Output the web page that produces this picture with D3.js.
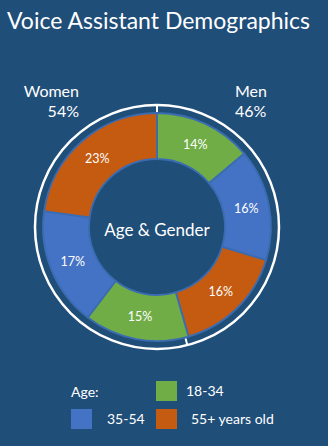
<!DOCTYPE html>
<html>
<head>
<meta charset="utf-8">
<script src="https://cdn.jsdelivr.net/npm/d3@7"></script>
<style>
  html, body { margin: 0; padding: 0; background: #1f4e79; }
  svg { display: block; }
  text { font-family: Lato, "Open Sans", sans-serif; fill: #ffffff; }
</style>
</head>
<body>
<svg id="chart" width="328" height="446"></svg>
<script>
// Age segments, clockwise from 12 o'clock: men first, then women
const segmentLabels = ["Men 18-34", "Men 35-54", "Men 55+", "Women 18-34", "Women 35-54", "Women 55+"];
const segmentAges   = ["18-34", "35-54", "55+", "18-34", "35-54", "55+"];
const segmentValues = [14, 16, 16, 15, 17, 23];

// Gender split shown on the outer ring
const genders      = ["Men", "Women"];
const genderValues = [46, 54];

// Legend entries
const ageGroups = ["18-34", "35-54", "55+"];
const ageNames  = ["18-34", "35-54", "55+ years old"];

const ageColor = d3.scaleOrdinal()
  .domain(ageGroups)
  .range(["#70ad47", "#4472c4", "#c55a11"]);

const svg = d3.select("#chart");
const cx = 157, cy = 227;
const innerR = 68, outerR = 114, ringR = 122;

// Title
svg.append("text")
  .attr("x", 7).attr("y", 29)
  .style("font-size", "23px")
  .text("Voice Assistant Demographics");

const g = svg.append("g").attr("transform", `translate(${cx},${cy})`);

// Age donut
const pie = d3.pie().sort(null).value(d => d.value);
const segData = segmentValues.map((v, i) => ({ value: v, age: segmentAges[i], name: segmentLabels[i] }));
const arcs = pie(segData);
const arc = d3.arc().innerRadius(innerR).outerRadius(outerR);

g.selectAll("path.seg")
  .data(arcs)
  .join("path")
  .attr("class", "seg")
  .attr("d", arc)
  .attr("fill", d => ageColor(d.data.age))
  .attr("stroke", "#3b6cb2")
  .attr("stroke-width", 1.8);

g.selectAll("text.seg-label")
  .data(arcs)
  .join("text")
  .attr("class", "seg-label")
  .attr("transform", d => `translate(${arc.centroid(d)})`)
  .attr("text-anchor", "middle")
  .attr("dominant-baseline", "central")
  .style("font-size", "12.5px")
  .text(d => d.data.value + "%");

// Outer gender ring with boundary ticks
g.append("circle")
  .attr("r", ringR)
  .attr("fill", "none")
  .attr("stroke", "#ffffff")
  .attr("stroke-width", 2.5);

const genderArcs = d3.pie().sort(null)(genderValues);
g.selectAll("line.tick")
  .data(genderArcs)
  .join("line")
  .attr("class", "tick")
  .attr("x1", d => Math.sin(d.startAngle) * (outerR + 1))
  .attr("y1", d => -Math.cos(d.startAngle) * (outerR + 1))
  .attr("x2", d => Math.sin(d.startAngle) * ringR)
  .attr("y2", d => -Math.cos(d.startAngle) * ringR)
  .attr("stroke", "#ffffff")
  .attr("stroke-width", 2);

// Gender labels
const genderPos = [
  { x: 235, anchor: "start" },
  { x: 79, anchor: "end" }
];
genders.forEach((name, i) => {
  const t = svg.append("text")
    .attr("text-anchor", genderPos[i].anchor)
    .style("font-size", "16px");
  t.append("tspan").attr("x", genderPos[i].x).attr("y", 97).text(name);
  t.append("tspan").attr("x", genderPos[i].x).attr("y", 117).text(genderValues[i] + "%");
});

// Center label
g.append("text")
  .attr("text-anchor", "middle")
  .attr("y", 9)
  .style("font-size", "17px")
  .text("Age & Gender");

// Legend
const legend = svg.append("g");
legend.append("text")
  .attr("x", 71).attr("y", 397)
  .style("font-size", "14px")
  .text("Age:");

const legendItems = [
  { age: "18-34", name: ageNames[0], sx: 156, sy: 381, tx: 186 },
  { age: "35-54", name: ageNames[1], sx: 71, sy: 409, tx: 107 },
  { age: "55+", name: ageNames[2], sx: 156, sy: 409, tx: 191 }
];
const items = legend.selectAll("g.item")
  .data(legendItems)
  .join("g")
  .attr("class", "item");
items.append("rect")
  .attr("x", d => d.sx).attr("y", d => d.sy)
  .attr("width", 21).attr("height", 20)
  .attr("fill", d => ageColor(d.age));
items.append("text")
  .attr("x", d => d.tx).attr("y", d => d.sy + 15)
  .style("font-size", "14px")
  .text(d => d.name);
</script>
</body>
</html>
